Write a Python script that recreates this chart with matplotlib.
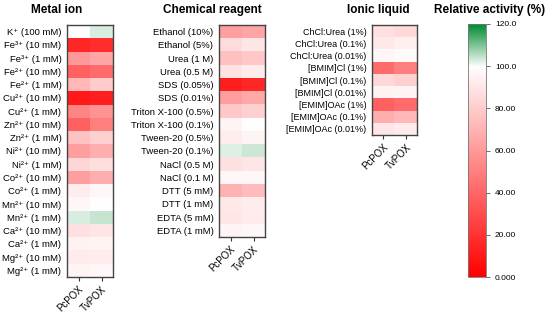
import numpy as np
import matplotlib
matplotlib.use("Agg")
import matplotlib.pyplot as plt
from matplotlib.colors import LinearSegmentedColormap, Normalize
from matplotlib.colorbar import ColorbarBase

plt.rcParams['font.family'] = ['Liberation Sans', 'DejaVu Sans']

enzymes = ["PcPOX", "TvPOX"]

# metal ions
metal_labels = ["K⁺ (100 mM)", "Fe³⁺ (10 mM)", "Fe³⁺ (1 mM)",
                "Fe²⁺ (10 mM)", "Fe²⁺ (1 mM)", "Cu²⁺ (10 mM)",
                "Cu²⁺ (1 mM)", "Zn²⁺ (10 mM)", "Zn²⁺ (1 mM)",
                "Ni²⁺ (10 mM)", "Ni²⁺ (1 mM)", "Co²⁺ (10 mM)",
                "Co²⁺ (1 mM)", "Mn²⁺ (10 mM)", "Mn²⁺ (1 mM)",
                "Ca²⁺ (10 mM)", "Ca²⁺ (1 mM)", "Mg²⁺ (10 mM)",
                "Mg²⁺ (1 mM)"]
metal_pc = [100, 15, 60, 38, 72, 10, 52, 38, 76, 62, 84, 62, 93, 97, 103, 88, 95, 92, 96]
metal_tv = [103, 18, 65, 42, 80, 12, 58, 50, 82, 68, 87, 68, 97, 99, 104.5, 90, 96, 93, 97]

# chemical reagents
chem_labels = ["Ethanol (10%)", "Ethanol (5%)", "Urea (1 M)", "Urea (0.5 M)",
               "SDS (0.05%)", "SDS (0.01%)", "Triton X-100 (0.5%)", "Triton X-100 (0.1%)",
               "Tween-20 (0.5%)", "Tween-20 (0.1%)", "NaCl (0.5 M)", "NaCl (0.1 M)",
               "DTT (5 mM)", "DTT (1 mM)", "EDTA (5 mM)", "EDTA (1 mM)"]
chem_pc = [62, 86, 75, 89, 12, 62, 78, 96, 93, 102.5, 88, 97, 70, 91, 90, 96]
chem_tv = [65, 90, 78, 92, 15, 66, 82, 99, 96, 104, 90, 97, 74, 93, 92, 97]

# ionic liquids
il_labels = ["ChCl:Urea (1%)", "ChCl:Urea (0.1%)", "ChCl:Urea (0.01%)",
             "[BMIM]Cl (1%)", "[BMIM]Cl (0.1%)", "[BMIM]Cl (0.01%)",
             "[EMIM]OAc (1%)", "[EMIM]OAc (0.1%)", "[EMIM]OAc (0.01%)"]
il_pc = [88, 91, 97, 42, 85, 95, 38, 68, 90]
il_tv = [85, 94, 98, 50, 82, 96, 42, 72, 92]

cbar_ticks = [0, 20, 40, 60, 80, 100, 120]
cbar_ticklabels = ["0.000", "20.00", "40.00", "60.00", "80.00", "100.0", "120.0"]

cmap = LinearSegmentedColormap.from_list(
    "rwg", [(0, "#ff0000"), (100 / 120, "#ffffff"), (1, "#008a30")])
norm = Normalize(0, 120)

fig = plt.figure(figsize=(5.5, 3.16), dpi=100)


def heat(rect, labels, pc, tv, title, title_x, fs):
    ax = fig.add_axes(rect)
    data = np.column_stack([pc, tv])
    ax.imshow(data, cmap=cmap, norm=norm, aspect='auto', interpolation='nearest')
    ax.set_xticks(range(2))
    ax.set_xticklabels(enzymes, rotation=45, ha='right', rotation_mode='anchor', fontsize=7)
    ax.set_yticks(range(len(labels)))
    ax.set_yticklabels(labels, fontsize=fs)
    ax.tick_params(axis='y', length=0, pad=4)
    ax.tick_params(axis='x', length=3, width=0.8, color='#333333', pad=2)
    for s in ax.spines.values():
        s.set_color('#444444')
        s.set_linewidth(1.0)
    fig.text(title_x, 1 - 10 / 316, title, ha='center', va='center',
             fontsize=8.5, fontweight='bold')
    return ax


heat([67 / 550, 1 - 277 / 316, 46 / 550, 252 / 316], metal_labels, metal_pc, metal_tv,
     "Metal ion", 57 / 550, 6.8)
heat([219 / 550, 1 - 237 / 316, 46 / 550, 212 / 316], chem_labels, chem_pc, chem_tv,
     "Chemical reagent", 212 / 550, 6.8)
heat([372 / 550, 1 - 135 / 316, 45 / 550, 110 / 316], il_labels, il_pc, il_tv,
     "Ionic liquid", 378 / 550, 6.5)

cax = fig.add_axes([468 / 550, 1 - 277 / 316, 18 / 550, 253 / 316])
cb = ColorbarBase(cax, cmap=cmap, norm=norm, orientation='vertical')
cb.set_ticks(cbar_ticks)
cb.set_ticklabels(cbar_ticklabels)
cb.ax.tick_params(labelsize=6, length=3, width=0.6, color='#555555')
cb.outline.set_linewidth(0.6)
cb.outline.set_edgecolor('#777777')
fig.text(490 / 550, 1 - 10 / 316, "Relative activity (%)", ha='center', va='center',
         fontsize=8.5, fontweight='bold')

fig.savefig("out.png", dpi=100)
